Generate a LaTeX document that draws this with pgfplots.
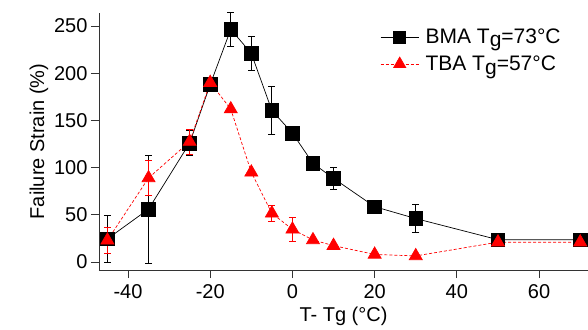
\documentclass[border=0pt]{standalone}
\usepackage{fontspec}
\setmainfont{Liberation Sans}
\usepackage{pgfplots}
\pgfplotsset{compat=1.18}
\newcommand{\sg}{\raisebox{-3.5pt}{g}}
\begin{document}
\begin{tikzpicture}[x=1pt,y=1pt]
\path[use as bounding box] (-99,-59) rectangle (489,270);
\begin{axis}[
  at={(0pt,0pt)}, anchor=south west,
  scale only axis, width=489pt, height=257pt,
  xmin=-47.05, xmax=71.9, ymin=-8.5, ymax=263.8,
  axis x line=bottom, axis y line=left,
  axis line style={-, line width=0.9pt, black!80},
  tick style={line width=0.9pt, black!80},
  tick align=outside, major tick length=8pt,
  xtick={-40,-20,0,20,40,60}, xticklabels={-40,-20,0,20,40,60},
  ytick={0,50,100,150,200,250}, yticklabels={0,50,100,150,200,250},
  ticklabel style={font=\fontsize{20}{22}\selectfont},
  xticklabel style={yshift=-3pt},
  label style={font=\fontsize{20}{22}\selectfont},
  xlabel={T- Tg (°C)}, ylabel={Failure Strain (\%)},
  xlabel style={yshift=-1pt},
  ylabel style={yshift=-1pt},
  clip=false,
  legend style={draw=none, fill=none, at={(axis description cs:0.575,0.947)}, anchor=north west,
    font=\fontsize{21}{22}\selectfont, row sep=7pt, inner sep=0pt, nodes={inner xsep=6.5pt}},
  legend cell align=left,
  legend image code/.code={
    \draw[#1,mark=none] (0pt,0pt) -- (38pt,0pt);
    \draw[#1,solid] plot coordinates {(19pt,0pt)};
  },
]
\addplot[black, line width=0.7pt, mark=square*, mark size=6.8pt, mark options={solid, fill=black},
  error bars/.cd, y dir=both, y explicit,
  error bar style={line width=0.8pt, black},
  error mark options={rotate=90, mark size=3.5pt, line width=0.8pt, black}]
coordinates {
(-45,24.5) +- (0,25)
(-35,56) +- (0,57)
(-25,126) +- (0,13)
(-20,188) +- (0,0)
(-15,246.5) +- (0,18)
(-10,221) +- (0,17.5)
(-5,160.5) +- (0,25.5)
(0,136.5) +- (0,4)
(5,104.5) +- (0,0)
(10,88.6) +- (0,11.5)
(20,58.6) +- (0,0)
(30,46) +- (0,15)
(50,23.6) +- (0,0)
(70,23.6) +- (0,0)
};
\addlegendimage{black, line width=0.7pt, mark=square*, mark size=6pt, mark options={solid, fill=black}}
\addplot[red, densely dashed, line width=0.7pt, mark=triangle*, mark size=7.5pt, mark options={solid, fill=red},
  error bars/.cd, y dir=both, y explicit,
  error bar style={line width=0.8pt, red, solid},
  error mark options={rotate=90, mark size=3.5pt, line width=0.8pt, red, solid}]
coordinates {
(-45,23) +- (0,14)
(-35,89) +- (0,18.5)
(-25,127.5) +- (0,13)
(-20,190) +- (0,0)
(-15,162) +- (0,0)
(-10,95) +- (0,0)
(-5,51.6) +- (0,8.5)
(0,34.6) +- (0,12.5)
(5,23.3) +- (0,0)
(10,17.3) +- (0,0)
(20,8) +- (0,0)
(30,6.4) +- (0,0)
(50,21) +- (0,0)
(70,21) +- (0,0)
};
\addlegendimage{red, densely dashed, line width=0.7pt, mark=triangle*, mark size=7pt, mark options={solid, fill=red}}
\legend{,BMA T\sg=73°C,,TBA T\sg=57°C}
\end{axis}
\end{tikzpicture}
\end{document}
